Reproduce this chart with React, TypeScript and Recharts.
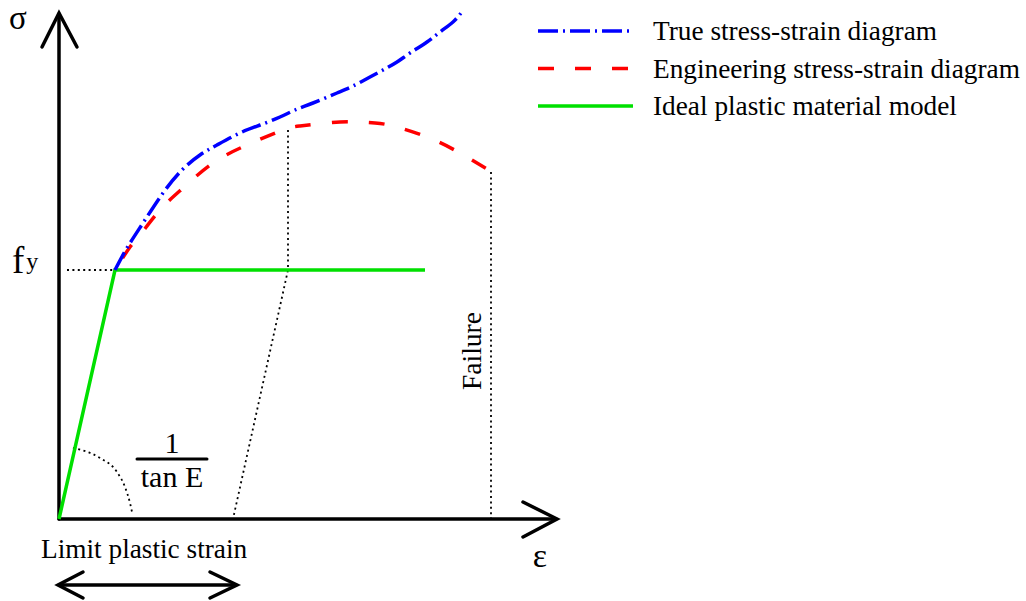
import React from 'react';
import { LineChart, Line, XAxis, YAxis, ReferenceDot, Legend } from 'recharts';

// Schematic units: strain (x) and stress (y) in drawing units
const elasticPlastic = [
  { x: 0, y: 0 },
  { x: 56, y: 249 },
  { x: 366, y: 249 },
];

const trueCurve = [
  { x: 56, y: 249 }, { x: 68, y: 271 }, { x: 84, y: 296 }, { x: 104, y: 326 },
  { x: 123, y: 349 }, { x: 141, y: 364 }, { x: 158, y: 374 }, { x: 181, y: 386 },
  { x: 201, y: 394 }, { x: 221, y: 402 }, { x: 236, y: 409 }, { x: 254, y: 416 },
  { x: 278, y: 426 }, { x: 294, y: 433 }, { x: 311, y: 442 }, { x: 324, y: 449 },
  { x: 338, y: 457 }, { x: 351, y: 466 }, { x: 368, y: 477 }, { x: 381, y: 487 },
  { x: 394, y: 497 }, { x: 402, y: 506 },
];

const engCurve = [
  { x: 56, y: 249 }, { x: 71, y: 272 }, { x: 81, y: 284 }, { x: 101, y: 309 },
  { x: 124, y: 331 }, { x: 154, y: 356 }, { x: 188, y: 374 }, { x: 224, y: 389 },
  { x: 241, y: 393 }, { x: 258, y: 395 }, { x: 281, y: 397 }, { x: 298, y: 397 },
  { x: 316, y: 396 }, { x: 334, y: 393 }, { x: 368, y: 382 }, { x: 401, y: 366 },
  { x: 433, y: 347 },
];

// dotted guide lines
const yieldGuide = [{ x: 8, y: 249 }, { x: 54, y: 249 }];
const unloadGuide = [{ x: 229, y: 389 }, { x: 229, y: 249 }, { x: 174, y: 0 }];
const failureGuide = [{ x: 432, y: 347 }, { x: 432, y: 0 }];
const angleArc = [
  { x: 14, y: 71 }, { x: 41, y: 61 }, { x: 58, y: 47 }, { x: 66, y: 32 },
  { x: 71, y: 16 }, { x: 73, y: 7 },
];

// axes and arrows
const yAxisLine = [{ x: 0, y: 0 }, { x: 0, y: 505 }];
const yAxisHead = [{ x: -17, y: 472 }, { x: 0, y: 506 }, { x: 18, y: 472 }];
const xAxisLine = [{ x: 0, y: 0 }, { x: 497, y: 0 }];
const xAxisHead = [{ x: 464, y: 17 }, { x: 498, y: 0 }, { x: 464, y: -18 }];
const strainSpan = [{ x: 0, y: -66 }, { x: 177, y: -66 }];
const strainHeadL = [{ x: 24, y: -53 }, { x: -1, y: -66 }, { x: 24, y: -79 }];
const strainHeadR = [{ x: 151, y: -53 }, { x: 178, y: -66 }, { x: 151, y: -79 }];
const fractionBar = [{ x: 78, y: 60 }, { x: 148, y: 60 }];

const seriesNames = [
  'True stress-strain diagram',
  'Engineering stress-strain diagram',
  'Ideal plastic material model',
];
const seriesColors = ['#0000ff', '#ff0000', '#00e000'];
const seriesDash = ['20 5 2 5', '16 21', ''];

const FONT = '"Liberation Serif", "Times New Roman", serif';

const DOT_DASH = '2 3.4';

function guide(key: string, data: { x: number; y: number }[], opts: any = {}) {
  return (
    <Line
      key={key}
      data={data}
      dataKey="y"
      type="linear"
      stroke="#000"
      strokeWidth={1.8}
      strokeDasharray={DOT_DASH}
      dot={false}
      activeDot={false}
      legendType="none"
      isAnimationActive={false}
      {...opts}
    />
  );
}

function solid(key: string, data: { x: number; y: number }[], width = 3.5) {
  return (
    <Line
      key={key}
      data={data}
      dataKey="y"
      type="linear"
      stroke="#000"
      strokeWidth={width}
      strokeLinecap="round"
      strokeLinejoin="miter"
      dot={false}
      activeDot={false}
      legendType="none"
      isAnimationActive={false}
    />
  );
}

function textMark(
  key: string,
  x: number,
  y: number,
  text: React.ReactNode,
  size: number,
  anchor: 'start' | 'middle' | 'end' = 'middle',
  rotate = 0
) {
  return (
    <ReferenceDot
      key={key}
      x={x}
      y={y}
      r={0}
      fill="none"
      stroke="none"
      ifOverflow="visible"
      label={(p: any) => {
        const vx = p.viewBox?.x ?? 0;
        const vy = p.viewBox?.y ?? 0;
        return (
          <text
            x={vx}
            y={vy}
            textAnchor={anchor}
            fontSize={size}
            fontFamily={FONT}
            fill="#000"
            transform={rotate ? `rotate(${rotate}, ${vx}, ${vy})` : undefined}
          >
            {text}
          </text>
        );
      }}
    />
  );
}

const renderLegend = () => (
  <svg width={490} height={120}>
    {seriesNames.map((n, i) => (
      <g key={n}>
        <line
          x1={3}
          x2={98}
          y1={19 + i * 37.5}
          y2={19 + i * 37.5}
          stroke={seriesColors[i]}
          strokeWidth={3.5}
          strokeDasharray={seriesDash[i] || undefined}
        />
        <text x={118} y={28 + i * 37.5} fontSize={27.3} fontFamily={FONT} fill="#000">
          {n}
        </text>
      </g>
    ))}
  </svg>
);

export default function App() {
  return (
    <div style={{ position: 'absolute', left: 0, top: 0, width: 1026, height: 601, background: '#fff' }}>
      <LineChart width={1026} height={601} margin={{ top: 0, right: 0, bottom: 0, left: 0 }}>
        <XAxis dataKey="x" type="number" domain={[-59, 967]} allowDataOverflow hide />
        <YAxis type="number" domain={[-82, 519]} allowDataOverflow hide />
        <Legend
          layout="vertical"
          align="center"
          verticalAlign="middle"
          content={renderLegend}
          wrapperStyle={{ position: 'absolute', left: 535, top: 12, width: 490, height: 120 }}
        />
        {guide('yieldGuide', yieldGuide)}
        {guide('unloadGuide', unloadGuide)}
        {guide('failureGuide', failureGuide)}
        {guide('angleArc', angleArc, { type: 'monotone' })}
        {solid('yAxisLine', yAxisLine)}
        {solid('yAxisHead', yAxisHead)}
        {solid('xAxisLine', xAxisLine)}
        {solid('xAxisHead', xAxisHead)}
        {solid('strainSpan', strainSpan)}
        {solid('strainHeadL', strainHeadL)}
        {solid('strainHeadR', strainHeadR)}
        {solid('fractionBar', fractionBar, 3)}
        <Line
          name={seriesNames[2]}
          data={elasticPlastic}
          dataKey="y"
          type="linear"
          stroke={seriesColors[2]}
          strokeWidth={3.5}
          dot={false}
          activeDot={false}
          isAnimationActive={false}
        />
        <Line
          name={seriesNames[1]}
          data={engCurve}
          dataKey="y"
          type="natural"
          stroke={seriesColors[1]}
          strokeWidth={3.5}
          strokeDasharray={seriesDash[1]}
          strokeDashoffset={-14}
          dot={false}
          activeDot={false}
          isAnimationActive={false}
        />
        <Line
          name={seriesNames[0]}
          data={trueCurve}
          dataKey="y"
          type="natural"
          stroke={seriesColors[0]}
          strokeWidth={3.5}
          strokeDasharray={seriesDash[0]}
          dot={false}
          activeDot={false}
          isAnimationActive={false}
        />
        {textMark('sigma', -41, 490, 'σ', 33)}
        {textMark(
          'fy',
          -47,
          246,
          <>
            f
            <tspan fontSize={24} dx={2} dy={-4}>
              y
            </tspan>
          </>,
          37,
          'start'
        )}
        {textMark('one', 113, 66, '1', 30)}
        {textMark('tanE', 113, 32, 'tan E', 30)}
        {textMark('limit', -18, -39, 'Limit plastic strain', 27.3, 'start')}
        {textMark('eps', 481, -48, 'ε', 34)}
        {textMark('failure', 422, 168, 'Failure', 27.5, 'middle', -90)}
      </LineChart>
    </div>
  );
}
